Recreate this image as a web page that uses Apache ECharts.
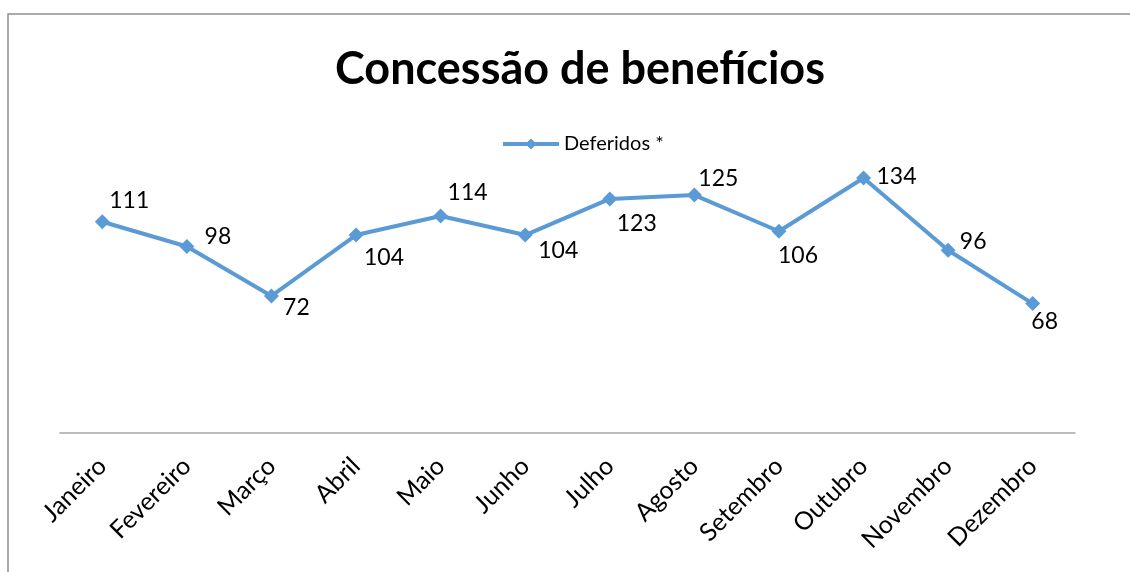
<!DOCTYPE html>
<html>
<head>
<meta charset="utf-8">
<script src="https://cdn.jsdelivr.net/npm/echarts@6/dist/echarts.min.js"></script>
<style>
  html, body { margin: 0; padding: 0; background: #fff; }
  #main { width: 1130px; height: 572px; }
</style>
</head>
<body>
<div id="main"></div>
<script>
var meses = ['Janeiro', 'Fevereiro', 'Março', 'Abril', 'Maio', 'Junho',
             'Julho', 'Agosto', 'Setembro', 'Outubro', 'Novembro', 'Dezembro'];
var deferidos = [111, 98, 72, 104, 114, 104, 123, 125, 106, 134, 96, 68];

// onde fica cada rótulo em relação ao ponto (px)
var rotuloOffset = [[27, -21], [31, -10], [25, 12], [28, 23], [27, -23], [33, 16],
                    [27, 25], [24, -17], [19, 24], [33, -1], [25, -9], [12, 18]];

var fonte = 'Lato, "Liberation Sans", sans-serif';
var azul = '#5b9bd5';

var pontos = deferidos.map(function (v, i) {
    return {
        value: v,
        label: { offset: rotuloOffset[i] }
    };
});

var myChart = echarts.init(document.getElementById('main'));

var option = {
    animation: false,
    backgroundColor: '#fff',
    title: {
        text: 'Concessão de benefícios',
        left: 575,
        textAlign: 'center',
        top: 42,
        textStyle: { fontFamily: fonte, fontWeight: 'bold', fontSize: 45, color: '#000' }
    },
    legend: {
        data: ['Deferidos *'],
        top: 129,
        left: 496,
        itemWidth: 56,
        itemHeight: 14,
        itemGap: 4,
        lineStyle: { width: 4 },
        textStyle: { fontFamily: fonte, fontSize: 20, color: '#000' }
    },
    graphic: [{
        type: 'rect',
        shape: { x: 8, y: 14, width: 1300, height: 800 },
        style: { fill: 'none', stroke: '#8e8e8e', lineWidth: 1.5 },
        silent: true
    }],
    grid: { left: 60, right: 55, top: 128.5, bottom: 139 },
    xAxis: {
        type: 'category',
        data: meses,
        boundaryGap: true,
        axisLine: { lineStyle: { color: '#a6a6a6', width: 1.5 } },
        axisTick: { show: false },
        axisLabel: {
            rotate: 45,
            margin: 29,
            interval: 0,
            fontFamily: fonte,
            fontSize: 25,
            color: '#000'
        }
    },
    yAxis: {
        type: 'value',
        min: 0,
        max: 160,
        interval: 20,
        show: false,
        splitLine: { show: false }
    },
    series: [{
        name: 'Deferidos *',
        type: 'line',
        data: pontos,
        symbol: 'diamond',
        symbolSize: 15,
        itemStyle: { color: azul },
        lineStyle: { color: azul, width: 4 },
        label: {
            show: true,
            position: 'inside',
            align: 'center',
            verticalAlign: 'middle',
            fontFamily: fonte,
            fontSize: 23,
            color: '#000'
        }
    }]
};

myChart.setOption(option);
</script>
</body>
</html>
